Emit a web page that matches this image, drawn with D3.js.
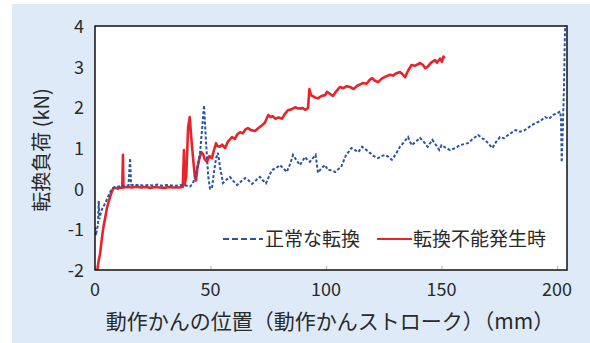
<!DOCTYPE html>
<html>
<head>
<meta charset="utf-8">
<script src="https://cdn.jsdelivr.net/npm/d3@7"></script>
<style>
  body { margin: 0; background: #fff; }
  svg text { font-family: "Noto Sans CJK JP", "Noto Sans", sans-serif; fill: #2a2a2a; }
</style>
</head>
<body>
<div id="chart"></div>
<script>
// 正常な転換 (blue, dashed) : [stroke mm, kN]
var normalData = [
  [0,-0.95],[0.4,-1.15],[0.8,-1.0],[1.3,-0.9],[1.6,-0.3],[1.9,-0.75],[2.5,-0.6],[3.2,-0.48],
  [4,-0.4],[5,-0.28],[5.8,-0.18],[6.6,-0.08],[7.4,0.0],[8.5,0.04],[10,0.05],[11.5,0.07],
  [13,0.06],[14.5,0.08],[15.2,0.75],[15.6,0.1],[17,0.08],[19,0.1],[21,0.07],[23,0.09],
  [25,0.08],[27,0.1],[29,0.07],[31,0.09],[33,0.08],[35,0.07],[37,0.09],[39,0.08],
  [40,0.07],[41.1,0.05],[42.2,0.12],[43.3,0.26],[44.6,0.6],[45.5,0.9],[46.4,1.5],[47.2,2.05],
  [48,1.2],[49,0.3],[49.8,0.0],[50.6,0.0],[51.5,0.4],[52.4,0.75],[53.2,0.88],[54.2,0.5],
  [55.4,0.14],[56.5,0.2],[58.4,0.29],[60,0.18],[61.5,0.09],[63.3,0.18],[65,0.26],[66.5,0.2],
  [68,0.12],[69.6,0.2],[71.4,0.29],[72.7,0.2],[74,0.13],[75.3,0.3],[76.6,0.46],[78.3,0.5],
  [80,0.58],[81.5,0.5],[83,0.41],[84.4,0.6],[85.7,0.83],[87.2,0.7],[88.7,0.58],[90,0.7],
  [91,0.78],[92,0.7],[93,0.66],[94.3,0.75],[95.5,0.83],[96.5,0.39],[98,0.5],[99.6,0.58],
  [100.8,0.46],[102.5,0.45],[104,0.41],[105.3,0.48],[106.5,0.53],[108.7,0.83],[110,0.92],[111,1.0],
  [112.5,0.95],[114,0.9],[115.6,1.03],[117.3,0.96],[119,0.88],[120.7,0.8],[122.5,0.75],[124,0.8],
  [125.5,0.83],[127,0.78],[128.5,0.71],[130.2,0.85],[132,1.03],[133.8,1.15],[135.5,1.27],[137,1.07],
  [138.8,1.15],[140.7,1.25],[142.3,1.15],[144,1.03],[146,1.2],[147.5,1.08],[149,0.95],[150,1.07],
  [152,1.0],[153.7,0.95],[156,1.0],[158,1.07],[160,1.1],[161.5,1.12],[163.5,1.22],[165.8,1.32],
  [167.3,1.25],[168.8,1.2],[170.4,1.1],[172,1.0],[173.6,1.15],[175.3,1.27],[177,1.24],[178.8,1.32],
  [180.4,1.38],[182,1.44],[184,1.4],[186,1.44],[188,1.52],[190.5,1.61],[192.7,1.66],[194.8,1.76],
  [196.5,1.72],[198.5,1.82],[200,1.85],[201.3,1.9],[201.7,1.75],[202,0.65],[202.5,1.5],[203,2.5],
  [203.3,3.5],[203.6,4.3]
];

// 転換不能発生時 (red, solid)
var failData = [
  [0.3,-2.1],[1,-2.0],[1.5,-1.8],[2.2,-1.6],[2.8,-1.3],[3.5,-1.0],[4.3,-0.75],[5.2,-0.47],
  [6,-0.3],[6.8,-0.15],[7.8,0.0],[9,0.02],[10,0.0],[11,0.03],[11.8,0.02],[12.1,0.83],
  [12.3,0.03],[14,0.04],[16,0.03],[18,0.05],[20,0.03],[22,0.04],[24,0.02],[26,0.04],
  [28,0.03],[30,0.02],[32,0.04],[34,0.03],[36,0.03],[38,0.04],[38.5,0.95],[38.8,0.1],
  [39.5,0.3],[40.3,1.5],[41,1.76],[41.6,1.3],[42.4,0.78],[43.2,0.3],[43.7,0.2],[44.3,0.5],
  [45,0.7],[46,0.9],[46.8,0.85],[47.5,0.72],[48.5,0.66],[49.5,0.8],[50.6,0.75],[51.5,0.95],
  [52.4,1.12],[53,1.05],[54,1.03],[55,1.08],[56.3,1.0],[57.5,1.15],[59.3,1.27],[60.5,1.22],
  [61.5,1.33],[62.8,1.39],[64,1.36],[65,1.45],[66.2,1.49],[67.5,1.44],[69.3,1.42],[70.5,1.48],
  [72.3,1.56],[73.5,1.62],[75,1.81],[76,1.76],[77,1.78],[78,1.72],[79.5,1.75],[81,1.72],
  [82,1.82],[83.5,1.93],[85,1.95],[86.6,2.0],[88,1.97],[90,1.98],[91,1.94],[92.2,1.98],
  [92.8,2.45],[93.5,2.3],[95,2.25],[96.5,2.22],[98,2.28],[99.6,2.3],[100.4,2.38],[101.5,2.34],
  [103,2.28],[104.5,2.4],[106,2.5],[107.5,2.47],[109,2.52],[110.4,2.5],[112,2.45],[113.5,2.53],
  [114.7,2.56],[116,2.6],[117.5,2.58],[119,2.68],[120,2.72],[121,2.66],[122.5,2.62],[124,2.7],
  [125.5,2.75],[127.7,2.8],[129,2.78],[130.5,2.84],[132,2.87],[133,2.82],[134.2,2.74],[135.5,2.9],
  [137,3.04],[138.5,3.02],[140.7,3.09],[142,3.04],[143,2.96],[144,3.0],[145.5,3.1],[147.2,3.16],
  [148,3.1],[149.4,3.2],[150.2,3.12],[150.8,3.25],[151.3,3.2]
];

var xTicks = [0, 50, 100, 150, 200];
var yTicks = [-2, -1, 0, 1, 2, 3, 4];
var legendNames = ["正常な転換", "転換不能発生時"];
var xTitle = "動作かんの位置（動作かんストローク）（mm）";
var yTitle = "転換負荷 (kN)";

var W = 590, H = 343;
var margin = {top: 26, right: 23, bottom: 73, left: 95};
var width = W - margin.left - margin.right,
    height = H - margin.top - margin.bottom;

var svg = d3.select("#chart").append("svg")
    .attr("width", W)
    .attr("height", H);

// light blue panel
svg.append("rect")
    .attr("x", 12).attr("y", 4)
    .attr("width", W - 12).attr("height", H - 4)
    .attr("fill", "#deeaf7");

var x = d3.scaleLinear().domain([0, 204.3]).range([0, width]);
var y = d3.scaleLinear().domain([-2, 4]).range([height, 0]);

svg.append("defs").append("clipPath")
    .attr("id", "clip")
    .append("rect")
    .attr("width", width)
    .attr("height", height);

var g = svg.append("g")
    .attr("transform", "translate(" + margin.left + "," + margin.top + ")");

g.append("rect")
    .attr("width", width).attr("height", height)
    .attr("fill", "#fff");

// small inward ticks on the bottom
var xAxis = d3.axisBottom(x).tickValues(xTicks).tickSize(-4).tickFormat("");
g.append("g")
    .attr("transform", "translate(0," + height + ")")
    .call(xAxis)
    .call(function(a) {
        a.select(".domain").remove();
        a.selectAll("line").attr("stroke", "#bbb").attr("stroke-width", 1.2);
    });

var line = d3.line()
    .x(function(d) { return x(d[0]); })
    .y(function(d) { return y(d[1]); });

var plot = g.append("g").attr("clip-path", "url(#clip)");

plot.append("path")
    .datum(failData)
    .attr("fill", "none")
    .attr("stroke", "#e8232b")
    .attr("stroke-width", 2.6)
    .attr("stroke-linejoin", "round")
    .attr("d", line);

plot.append("path")
    .datum(normalData)
    .attr("fill", "none")
    .attr("stroke", "#2a549e")
    .attr("stroke-width", 2)
    .attr("stroke-dasharray", "3,2")
    .attr("d", line);

// frame
g.append("rect")
    .attr("width", width).attr("height", height)
    .attr("fill", "none")
    .attr("stroke", "#111")
    .attr("stroke-width", 1.5);

// tick labels
g.selectAll(".ylab")
    .data(yTicks)
    .enter().append("text")
    .attr("class", "ylab")
    .attr("x", -11)
    .attr("y", function(d) { return y(d) + 7; })
    .attr("text-anchor", "end")
    .attr("font-size", 18)
    .text(function(d) { return d; });

g.selectAll(".xlab")
    .data(xTicks)
    .enter().append("text")
    .attr("class", "xlab")
    .attr("x", function(d) { return x(d); })
    .attr("y", height + 26)
    .attr("text-anchor", "middle")
    .attr("font-size", 18)
    .text(function(d) { return d; });

// titles
svg.append("text")
    .attr("x", 330).attr("y", 329)
    .attr("text-anchor", "middle")
    .attr("font-size", 21)
    .text(xTitle);

svg.append("text")
    .attr("transform", "translate(49,150) rotate(-90)")
    .attr("text-anchor", "middle")
    .attr("font-size", 20)
    .text(yTitle);

// legend
var legY = 239;
var leg = svg.append("g");
leg.append("line")
    .attr("x1", 223).attr("x2", 263)
    .attr("y1", legY).attr("y2", legY)
    .attr("stroke", "#2a549e").attr("stroke-width", 2)
    .attr("stroke-dasharray", "6,3");
leg.append("text")
    .attr("x", 265).attr("y", legY + 7)
    .attr("font-size", 19)
    .text(legendNames[0]);
leg.append("line")
    .attr("x1", 377).attr("x2", 412)
    .attr("y1", legY).attr("y2", legY)
    .attr("stroke", "#e8232b").attr("stroke-width", 2.2);
leg.append("text")
    .attr("x", 413).attr("y", legY + 7)
    .attr("font-size", 19)
    .text(legendNames[1]);
</script>
</body>
</html>
